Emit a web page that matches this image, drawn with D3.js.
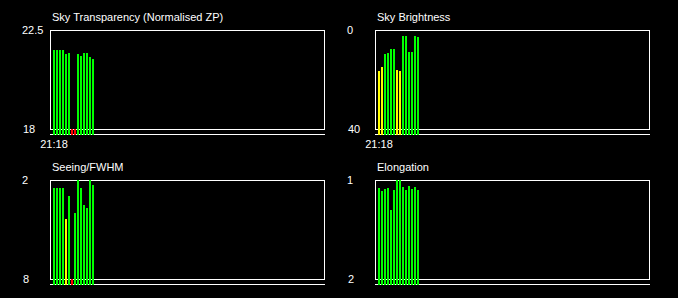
<!DOCTYPE html>
<html>
<head>
<meta charset="utf-8">
<script src="https://cdn.jsdelivr.net/npm/d3@7"></script>
<style>
  html, body { margin: 0; padding: 0; background: #000; }
  svg { display: block; }
  text { font-family: "Liberation Sans", Arial, sans-serif; font-size: 11px; fill: #fff; }
</style>
</head>
<body>
<div class="charts"></div>
<script>
// DATA ------------------------------------
const timeLabels = ["21:18"]
const slotCount = 91

const transparency = [21.57, 21.57, 21.61, 21.61, 21.43, 21.47, 17.5, 17.5, 21.39, 21.34, 21.47, 21.47, 21.29, 21.2]
const transparencyFlags = ["g", "g", "g", "g", "g", "g", "r", "r", "g", "g", "g", "g", "g", "g"]

const brightness = [16.7, 15.1, 9.5, 9.1, 7.5, 7.5, 16.3, 16.7, 2.3, 2.3, 8.7, 8.7, 2.3, 2.7]
const brightnessFlags = ["y", "y", "g", "g", "g", "g", "y", "y", "g", "g", "g", "g", "g", "g"]

const seeing = [2.46, 2.46, 2.46, 2.46, 4.39, 2.94, 9, 3.97, 2.0, 2.46, 3.49, 3.67, 2.0, 2.28]
const seeingFlags = ["g", "g", "g", "g", "y", "g", "r", "g", "g", "g", "g", "g", "g", "g"]

const elongation = [1.077, 1.107, 1.087, 1.077, 1.30, 1.097, 1.0, 1.0, 1.067, 1.097, 1.057, 1.087, 1.067, 1.097]
const elongationFlags = ["g", "g", "g", "g", "g", "g", "g", "g", "g", "g", "g", "g", "g", "g"]

const panels = [
    {title: "Sky Transparency (Normalised ZP)", top: "22.5", bottom: "18", domain: [18, 22.5], values: transparency, flags: transparencyFlags, time: true},
    {title: "Sky Brightness", top: "0", bottom: "40", domain: [40, 0], values: brightness, flags: brightnessFlags, time: true},
    {title: "Seeing/FWHM", top: "2", bottom: "8", domain: [8, 2], values: seeing, flags: seeingFlags, time: false},
    {title: "Elongation", top: "1", bottom: "2", domain: [2, 1], values: elongation, flags: elongationFlags, time: false}
]

// CHART INIT ------------------------------
const colorMap = {g: "#00ff00", y: "#ffff00", r: "#ff0000"}
const W = 678, H = 298
const boxW = 274, boxH = 99
const origins = [[50, 30], [375, 30], [50, 180], [375, 180]]

const svg = d3.select(".charts").append("svg")
        .attr("width", W)
        .attr("height", H)

svg.append("rect").attr("width", W).attr("height", H).attr("fill", "#000")

panels.forEach((p, k) => {
    const [ox, oy] = origins[k]
    const g = svg.append("g").attr("transform", `translate(${ox},${oy})`)

    const xScale = d3.scaleLinear()
        .domain([0, slotCount])
        .range([3, 3 + slotCount * 3])

    const yScale = d3.scaleLinear()
        .domain(p.domain)
        .range([boxH, 0])
        .clamp(true)

    // frame + baseline
    g.append("rect")
        .attr("x", 0.5).attr("y", 0.5)
        .attr("width", boxW).attr("height", boxH)
        .attr("fill", "none").attr("stroke", "#fff")
    g.append("line")
        .attr("x1", 0).attr("x2", boxW + 1)
        .attr("y1", boxH + 5.5).attr("y2", boxH + 5.5)
        .attr("stroke", "#fff")

    // bars
    g.selectAll("rect.bar")
        .data(p.values)
        .join("rect")
            .attr("class", "bar")
            .attr("x", (d, i) => xScale(i))
            .attr("y", d => Math.round(yScale(d)))
            .attr("width", 2)
            .attr("height", d => boxH + 6 - Math.round(yScale(d)))
            .attr("fill", (d, i) => colorMap[p.flags[i]])

    // title + axis labels
    g.append("text").attr("x", 2).attr("y", -9).text(p.title)
    g.append("text").attr("x", -28).attr("y", 4).text(p.top)
    g.append("text").attr("x", -27).attr("y", boxH + 4).text(p.bottom)

    if (p.time) {
        g.selectAll("text.time")
            .data(timeLabels)
            .join("text")
                .attr("class", "time")
                .attr("x", (d, i) => xScale(i) + 1)
                .attr("y", boxH + 19)
                .attr("text-anchor", "middle")
                .text(d => d)
    }
})
</script>
</body>
</html>
